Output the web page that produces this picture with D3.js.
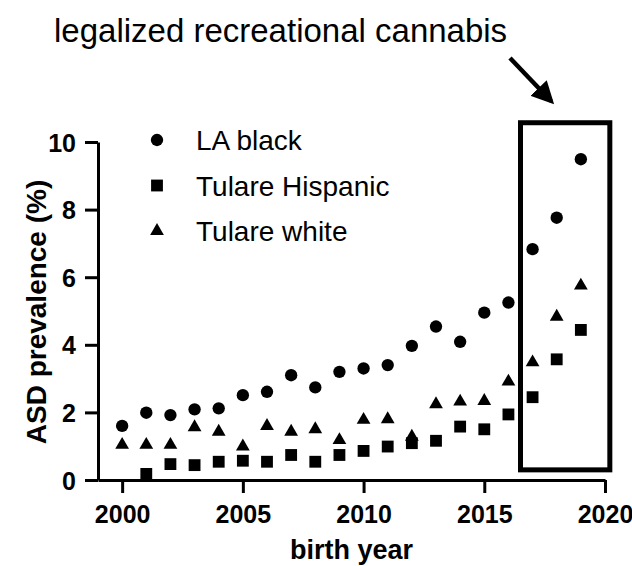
<!DOCTYPE html>
<html>
<head>
<meta charset="utf-8">
<script src="https://cdn.jsdelivr.net/npm/d3@7"></script>
<style>
  body { margin: 0; background: #fff; }
  svg { display: block; font-family: "Liberation Sans", Arial, sans-serif; }
</style>
</head>
<body>
<script>
// birth years and prevalence (%)
var years = [2000, 2001, 2002, 2003, 2004, 2005, 2006, 2007, 2008, 2009,
             2010, 2011, 2012, 2013, 2014, 2015, 2016, 2017, 2018, 2019];
var laBlack = [1.6, 1.99, 1.92, 2.09, 2.12, 2.51, 2.61, 3.1, 2.74, 3.2,
               3.3, 3.4, 3.97, 4.54, 4.09, 4.95, 5.25, 6.83, 7.76, 9.49];
var tulareHispanic = [null, 0.18, 0.47, 0.44, 0.54, 0.57, 0.54, 0.74, 0.54, 0.74,
                      0.86, 0.99, 1.09, 1.16, 1.58, 1.5, 1.94, 2.45, 3.57, 4.44];
var tulareWhite = [1.04, 1.04, 1.04, 1.56, 1.43, 0.99, 1.6, 1.43, 1.5, 1.18,
                   1.78, 1.8, 1.28, 2.24, 2.32, 2.34, 2.91, 3.48, 4.83, 5.75];
var seriesNames = ['LA black', 'Tulare Hispanic', 'Tulare white'];
var xTicks = [2000, 2005, 2010, 2015, 2020];
var yTicks = [0, 2, 4, 6, 8, 10];
// highlighted region (legalization), in data units
var boxYears = [2016.5, 2020.2];
var boxValues = [0.3, 10.57];
var annotation = 'legalized recreational cannabis';

var width = 632, height = 566;

var svg = d3.select('body').append('svg')
  .attr('width', width)
  .attr('height', height);

var x = d3.scaleLinear().domain([1999, 2020]).range([98, 605]);
var y = d3.scaleLinear().domain([0, 10]).range([480, 142]);

var shapes = [d3.symbolCircle, d3.symbolSquare, d3.symbolTriangle];
var sizes = [120, 140, 82];

var series = [laBlack, tulareHispanic, tulareWhite].map(function(vals, k) {
  return {
    name: seriesNames[k],
    shape: shapes[k],
    size: sizes[k],
    points: years.map(function(yr, i) { return { year: yr, value: vals[i] }; })
      .filter(function(d) { return d.value != null; })
  };
});

// axes
var xAxis = svg.append('g')
  .attr('transform', 'translate(0,' + y(0) + ')')
  .call(d3.axisBottom(x).tickValues(xTicks).tickFormat(d3.format('d'))
    .tickSize(13).tickSizeOuter(0).tickPadding(12));

var yAxis = svg.append('g')
  .attr('transform', 'translate(' + x(1999) + ',0)')
  .call(d3.axisLeft(y).tickValues(yTicks).tickSize(13).tickSizeOuter(0).tickPadding(9));

[xAxis, yAxis].forEach(function(g) {
  g.select('.domain').attr('stroke', '#000').attr('stroke-width', 3);
  g.selectAll('.tick line').attr('stroke', '#000').attr('stroke-width', 3);
  g.selectAll('.tick text')
    .attr('fill', '#000')
    .style('font-size', '25px')
    .style('font-weight', 'bold')
    .style('font-family', '"Liberation Sans", Arial, sans-serif');
});
yAxis.selectAll('.tick text').attr('dy', '0.36em');

// axis titles
svg.append('text')
  .attr('x', (x(1999) + x(2020)) / 2)
  .attr('y', 559)
  .attr('text-anchor', 'middle')
  .style('font-size', '27px')
  .style('font-weight', 'bold')
  .text('birth year');

svg.append('text')
  .attr('transform', 'translate(46,312) rotate(-90)')
  .attr('text-anchor', 'middle')
  .style('font-size', '28px')
  .style('font-weight', 'bold')
  .text('ASD prevalence (%)');

// points
series.forEach(function(s) {
  svg.append('g').selectAll('path')
    .data(s.points)
    .enter().append('path')
      .attr('transform', function(d) { return 'translate(' + x(d.year) + ',' + y(d.value) + ')'; })
      .attr('d', d3.symbol().type(s.shape).size(s.size))
      .attr('fill', '#000');
});

// legend
var legend = svg.append('g').attr('transform', 'translate(157,140)');
var rows = legend.selectAll('g').data(series).enter().append('g')
  .attr('transform', function(d, i) { return 'translate(0,' + (i * 45.5) + ')'; });
rows.append('path')
  .attr('d', function(d) { return d3.symbol().type(d.shape).size(d.size)(); })
  .attr('fill', '#000');
rows.append('text')
  .attr('x', 39)
  .attr('dy', '0.36em')
  .style('font-size', '28px')
  .text(function(d) { return d.name; });

// highlight box
svg.append('rect')
  .attr('x', x(boxYears[0]))
  .attr('y', y(boxValues[1]))
  .attr('width', x(boxYears[1]) - x(boxYears[0]))
  .attr('height', y(boxValues[0]) - y(boxValues[1]))
  .attr('fill', 'none')
  .attr('stroke', '#000')
  .attr('stroke-width', 5);

// annotation + arrow
svg.append('defs').append('marker')
  .attr('id', 'head')
  .attr('viewBox', '0 0 10 10')
  .attr('refX', 8).attr('refY', 5)
  .attr('markerWidth', 5).attr('markerHeight', 5)
  .attr('markerUnits', 'strokeWidth')
  .attr('orient', 'auto')
  .append('path').attr('d', 'M0,0L10,5L0,10Z').attr('fill', '#000');

svg.append('text')
  .attr('x', 54)
  .attr('y', 42)
  .style('font-size', '33px')
  .text(annotation);

svg.append('line')
  .attr('x1', 510).attr('y1', 58)
  .attr('x2', 551).attr('y2', 101)
  .attr('stroke', '#000')
  .attr('stroke-width', 4.5)
  .attr('marker-end', 'url(#head)');
</script>
</body>
</html>
